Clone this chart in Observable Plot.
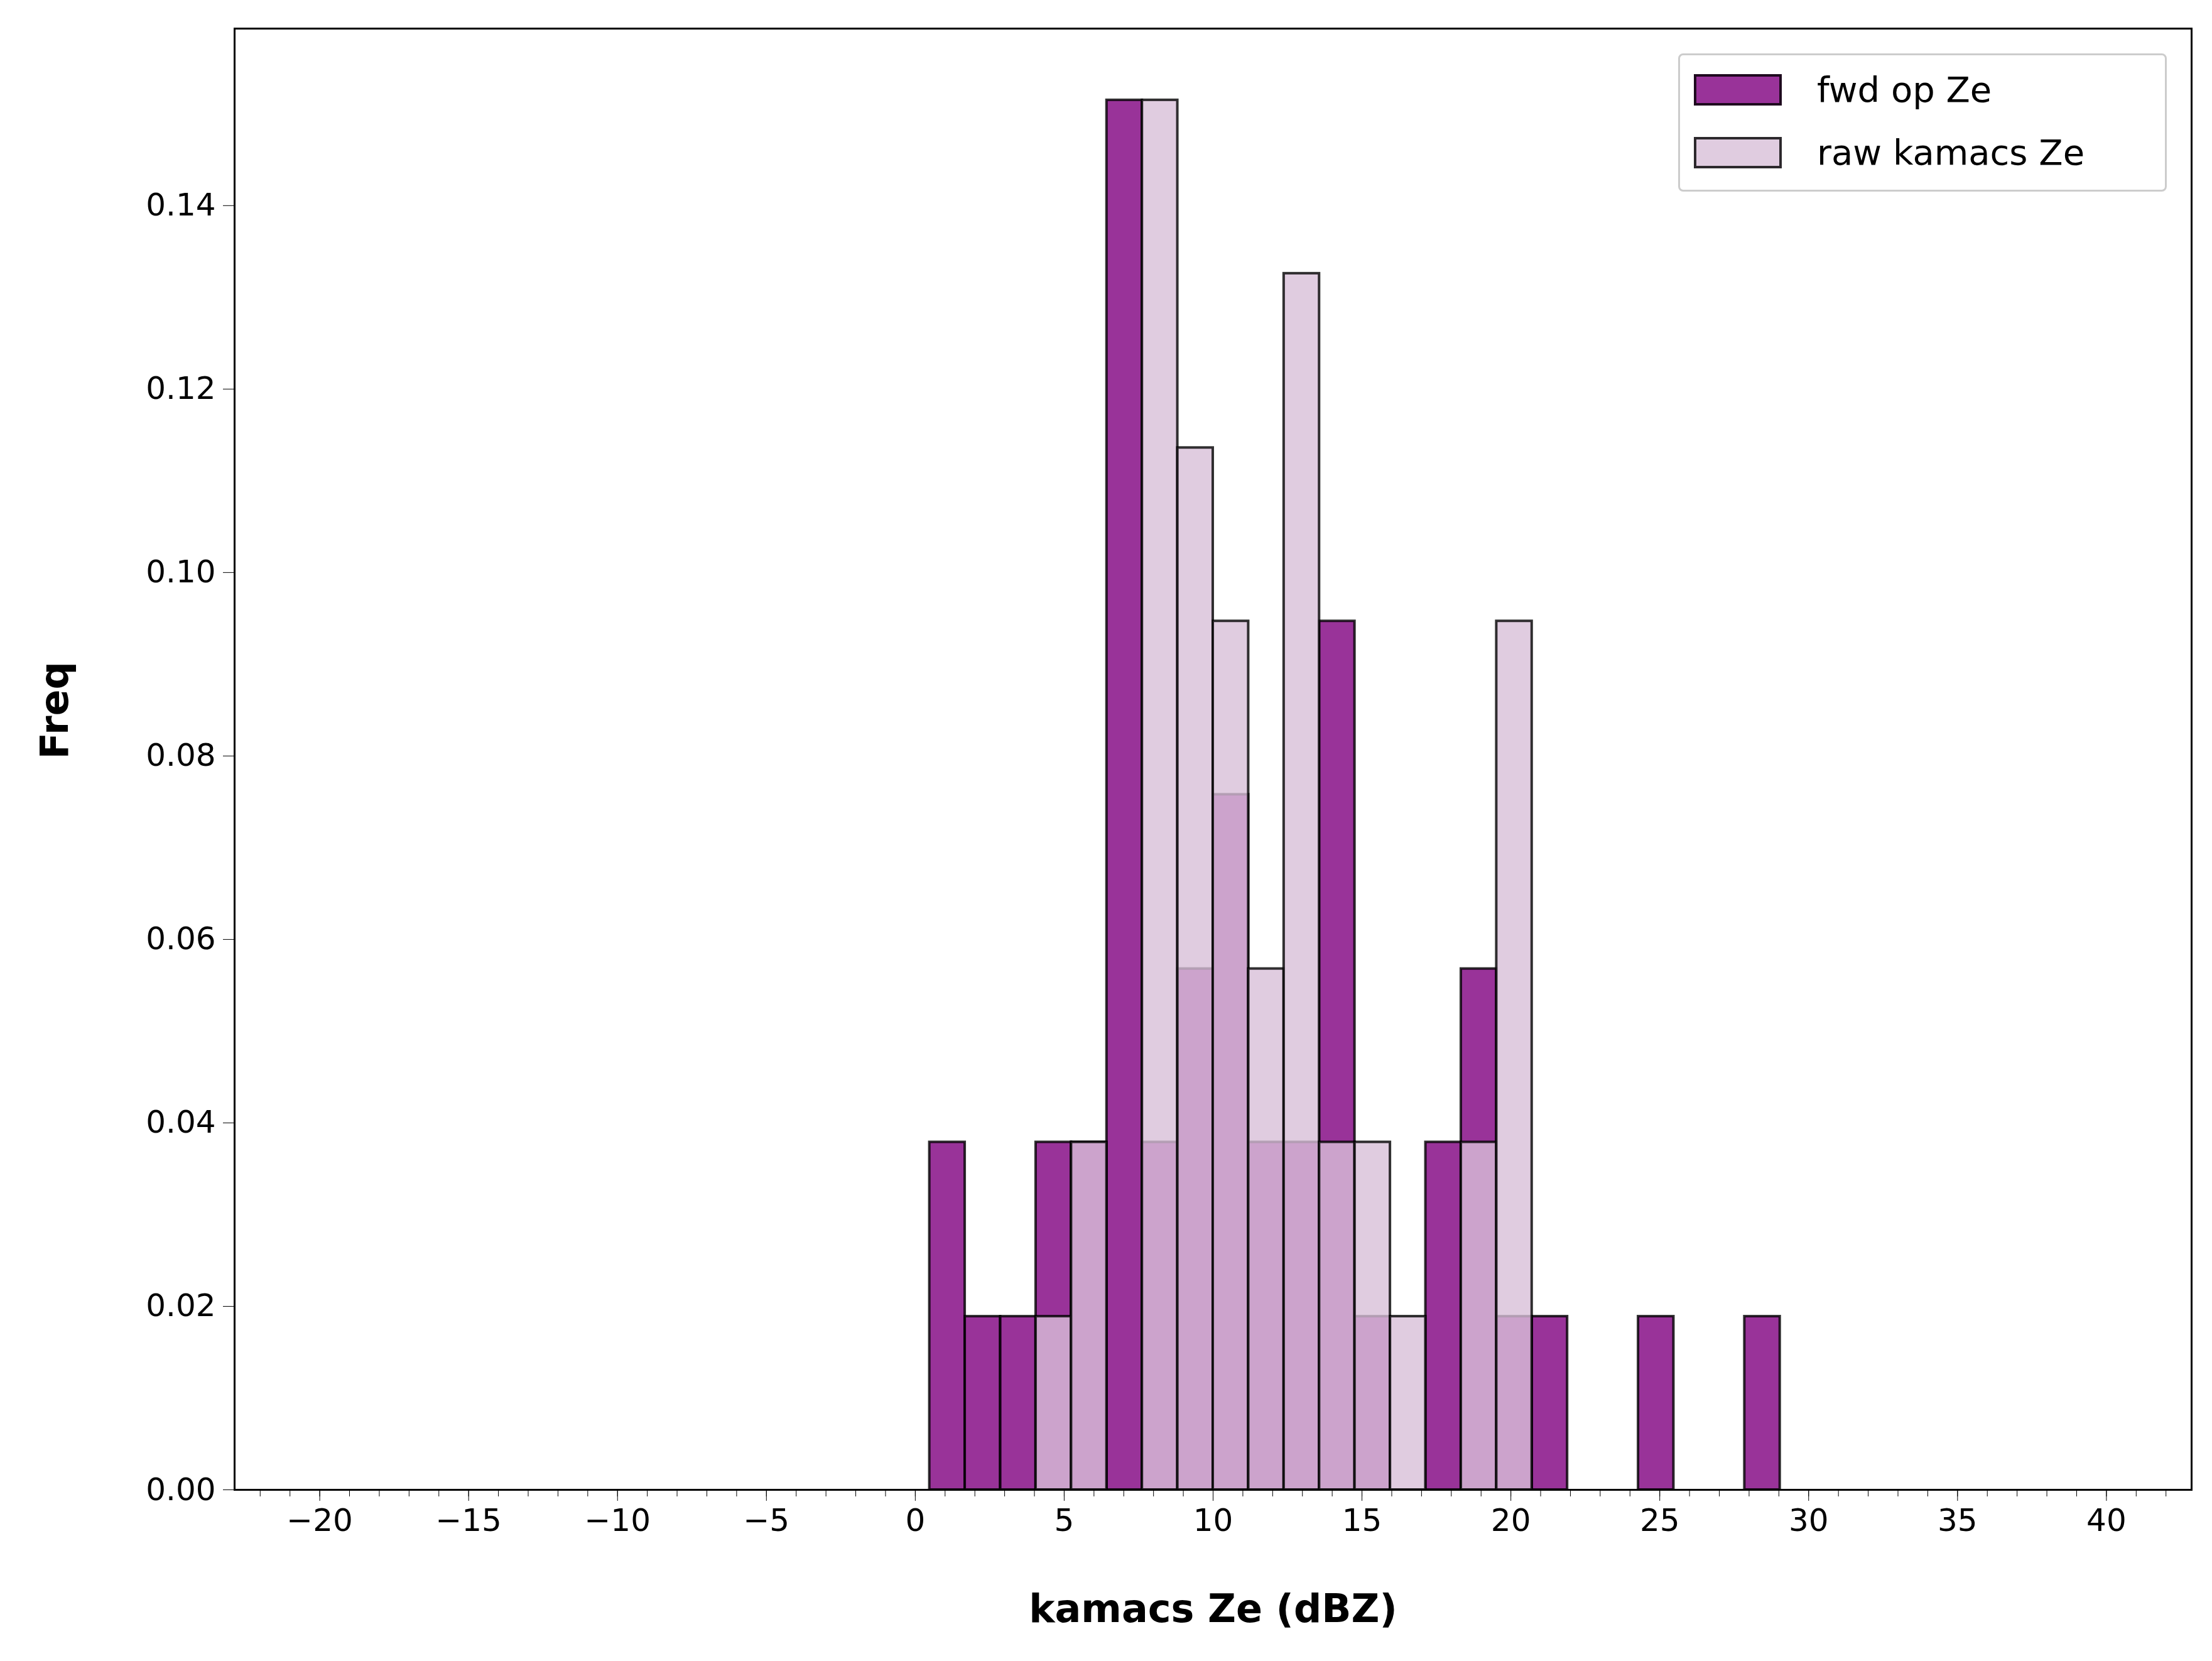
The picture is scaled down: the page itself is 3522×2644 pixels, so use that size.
<!DOCTYPE html>
<html><head><meta charset="utf-8">
<script src="https://cdn.jsdelivr.net/npm/d3@7"></script>
<script src="https://cdn.jsdelivr.net/npm/@observablehq/plot@0.6"></script>
<style>body{margin:0;background:#fff;font-family:"DejaVu Sans",sans-serif}#wrap{position:relative;width:3522px;height:2644px}
#legend{position:absolute;left:2672px;top:85px;width:778px;height:220px;border:3px solid #ccc;border-radius:8px;background:rgba(255,255,255,0.8);font-size:56px;box-sizing:border-box}
.row{position:absolute;left:22px;display:flex;align-items:center}.sw{width:140px;height:50px;border:4px solid rgba(0,0,0,0.8);box-sizing:border-box;margin-right:56px}</style>
</head><body><div id="wrap"><div id="legend">
<div class="row" style="top:22px"><div class="sw" style="background:rgba(128,0,128,0.8)"></div>fwd op Ze</div>
<div class="row" style="top:122px"><div class="sw" style="background:rgba(216,191,216,0.8)"></div>raw kamacs Ze</div>
</div></div>
<script>
const binStart = 0.48, binWidth = 1.19;
const fwdFreq = [0.0379,0.0189,0.0189,0.0379,0.0379,0.1515,0.0379,0.0568,0.0758,0.0379,0.0379,0.0947,0.0189,0,0.0379,0.0568,0.0189,0.0189,0,0,0.0189,0,0,0.0189];
const rawFreq = [0,0,0,0.0189,0.0379,0,0.1515,0.1136,0.0947,0.0568,0.1326,0.0379,0.0379,0.0189,0,0.0379,0.0947,0,0,0,0,0,0,0];
const xMajor = [-20,-15,-10,-5,0,5,10,15,20,25,30,35,40];
const xMinor = d3.range(-22,43);
const yTicks = [0,0.02,0.04,0.06,0.08,0.10,0.12,0.14];
const mk = arr => arr.map((v,i)=>({x1:binStart+i*binWidth,x2:binStart+(i+1)*binWidth,y:v})).filter(d=>d.y>0);
const plot = Plot.plot({
  width:3522,height:2644,marginLeft:373,marginRight:33,marginTop:45,marginBottom:273,
  style:{fontFamily:"DejaVu Sans",fontSize:"50px",color:"#000",background:"white"},
  x:{domain:[-22.86,42.86]},
  y:{domain:[0,0.1593]},
  marks:[
    Plot.rectY(mk(fwdFreq),{x1:"x1",x2:"x2",y:"y",fill:"purple",fillOpacity:0.8,stroke:"black",strokeOpacity:0.8,strokeWidth:4}),
    Plot.rectY(mk(rawFreq),{x1:"x1",x2:"x2",y:"y",fill:"thistle",fillOpacity:0.8,stroke:"black",strokeOpacity:0.8,strokeWidth:4}),
    Plot.axisX({ticks:xMinor,tickSize:11,tickWidth:4.5,stroke:"black",text:null}),
    Plot.axisX({ticks:xMajor,tickSize:18,tickWidth:4.5,stroke:"black",tickPadding:12,fontSize:50,tickFormat:d=>d<0?"\u2212"+(-d):String(d),label:null}),
    Plot.axisY({ticks:yTicks,tickSize:18,tickWidth:4.5,stroke:"black",tickPadding:12,fontSize:50,tickFormat:d3.format(".2f"),label:null}),
    Plot.frame({stroke:"black",strokeWidth:3}),
    Plot.text(["kamacs Ze (dBZ)"],{frameAnchor:"bottom",dy:210,fontSize:62,fontWeight:"bold"}),
    Plot.text(["Freq"],{frameAnchor:"left",dx:-285,rotate:-90,fontSize:62,fontWeight:"bold"})
  ]
});
document.getElementById("wrap").prepend(plot);
</script></body></html>
